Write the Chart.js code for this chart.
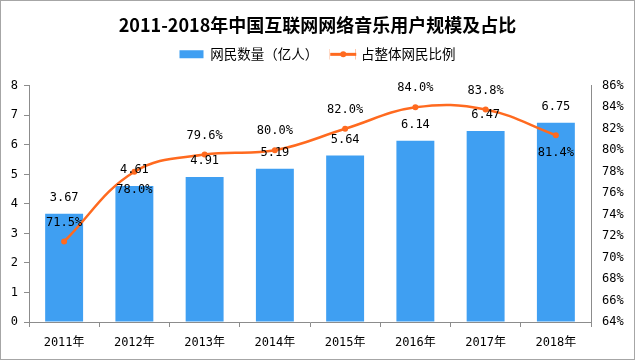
<!DOCTYPE html>
<html>
<head>
<meta charset="utf-8">
<script src="https://cdn.jsdelivr.net/npm/chart.js@4/dist/chart.umd.min.js"></script>
<style>
html,body{margin:0;padding:0;background:#fff;}
#wrap{width:633px;height:358px;border:1px solid #a6a6a6;background:#fff;}
canvas{display:block;}
</style>
</head>
<body>
<div id="wrap"><canvas id="c" width="633" height="358"></canvas></div>
<script>
const titleText = '2011-2018年中国互联网网络音乐用户规模及占比';
const categories = ['2011年','2012年','2013年','2014年','2015年','2016年','2017年','2018年'];
const users = [3.67, 4.61, 4.91, 5.19, 5.64, 6.14, 6.47, 6.75];
const shares = [71.5, 78.0, 79.6, 80.0, 82.0, 84.0, 83.8, 81.4];
const seriesNames = ['网民数量（亿人）', '占整体网民比例'];
const shareLabelBelow = [false, true, false, false, false, false, false, true];

const MONO = "'DejaVu Sans Mono','Noto Sans CJK SC',sans-serif";
const CJK = "'Noto Sans CJK SC',sans-serif";
const BAR = '#3f9ff2';
const LINE = '#ff6a1f';
const AXIS = '#8c8c8c';

const headerPlugin = {
  id: 'headerFix',
  afterInit(chart) {
    const lg = chart.legend;
    const f = lg.fit;
    lg.fit = function () { f.call(this); this.height += 14.75; };
  },
  afterDraw(chart) {
    const lg = chart.legend;
    const idx = lg.legendItems.findIndex(it => it.datasetIndex === 0);
    if (idx < 0) return;
    const hb = lg.legendHitBoxes[idx];
    const ctx = chart.ctx;
    const bw = lg.options.labels.boxWidth;
    const cy = hb.top + hb.height / 2;
    ctx.save();
    ctx.fillStyle = '#fff';
    ctx.fillRect(hb.left - 1, hb.top - 1, bw + 2, hb.height + 2);
    ctx.strokeStyle = LINE;
    ctx.lineWidth = 3;
    ctx.beginPath();
    ctx.moveTo(hb.left, cy);
    ctx.lineTo(hb.left + bw + 2, cy);
    ctx.stroke();
    ctx.fillStyle = LINE;
    ctx.beginPath();
    ctx.arc(hb.left + bw / 2 + 1, cy, 3, 0, Math.PI * 2);
    ctx.fill();
    ctx.restore();
  }
};

const labelPlugin = {
  id: 'valueLabels',
  afterDatasetsDraw(chart) {
    const ctx = chart.ctx;
    ctx.save();
    ctx.font = '12px ' + MONO;
    ctx.fillStyle = '#000';
    ctx.textAlign = 'center';
    ctx.textBaseline = 'middle';
    chart.getDatasetMeta(1).data.forEach((el, i) => {
      ctx.fillText(users[i].toFixed(2), el.x, el.y - 16);
    });
    chart.getDatasetMeta(0).data.forEach((el, i) => {
      ctx.fillText(shares[i].toFixed(1) + '%', el.x, el.y + (shareLabelBelow[i] ? 18 : -19));
    });
    ctx.restore();
  }
};

new Chart(document.getElementById('c'), {
  data: {
    labels: categories,
    datasets: [
      {
        type: 'line',
        label: seriesNames[1],
        data: shares,
        yAxisID: 'y1',
        borderColor: LINE,
        backgroundColor: LINE,
        borderWidth: 2.5,
        pointRadius: 3,
        pointBorderWidth: 0,
        pointBackgroundColor: LINE,
        tension: 0.4,
        fill: false
      },
      {
        type: 'bar',
        label: seriesNames[0],
        data: users,
        yAxisID: 'y',
        backgroundColor: BAR,
        borderWidth: 0,
        categoryPercentage: 1,
        barPercentage: 0.54
      }
    ]
  },
  options: {
    responsive: false,
    animation: false,
    layout: { padding: 0 },
    plugins: {
      title: {
        display: true,
        text: titleText,
        color: '#000',
        font: { family: CJK, size: 18, weight: 'bold' },
        padding: { top: 13, bottom: 0 }
      },
      legend: {
        display: true,
        position: 'top',
        labels: {
          sort: (a, b) => b.datasetIndex - a.datasetIndex,
          boxWidth: 24,
          boxHeight: 8,
          padding: 12,
          color: '#000',
          font: { family: CJK, size: 13.5 }
        }
      },
      tooltip: { enabled: false }
    },
    scales: {
      x: {
        grid: { display: true, drawOnChartArea: false, drawTicks: true, tickLength: 5, color: AXIS, offset: true },
        border: { display: true, color: AXIS },
        ticks: { color: '#000', font: { family: MONO, size: 12 }, padding: 9, maxRotation: 0 },
        afterFit(s) { s.height = 37; }
      },
      y: {
        position: 'left',
        min: 0,
        max: 8,
        ticks: { stepSize: 1, color: '#000', font: { family: MONO, size: 12 }, padding: 6 },
        grid: { display: true, drawOnChartArea: false, drawTicks: true, tickLength: 5, color: AXIS },
        border: { display: true, color: AXIS },
        afterFit(s) { s.width = 28; }
      },
      y1: {
        position: 'right',
        min: 64,
        max: 86,
        ticks: { stepSize: 2, color: '#000', font: { family: MONO, size: 12 }, padding: 11, callback: v => v + '%' },
        grid: { display: true, drawOnChartArea: false, drawTicks: false },
        border: { display: true, color: AXIS },
        afterFit(s) { s.width = 43; }
      }
    }
  },
  plugins: [headerPlugin, labelPlugin]
});
</script>
</body>
</html>
